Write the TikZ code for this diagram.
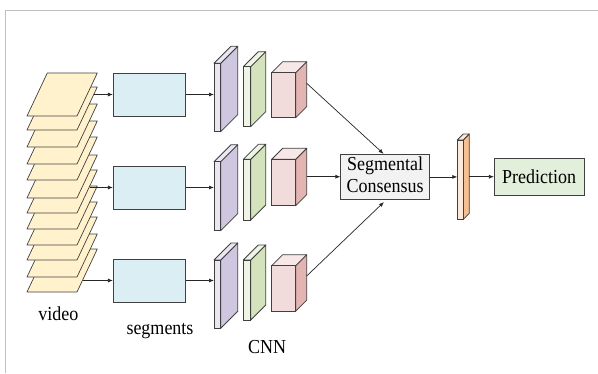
\documentclass[tikz,border=0pt]{standalone}
\usepackage{fontspec}
\setmainfont{Liberation Serif}
\usetikzlibrary{arrows.meta}

\definecolor{edge}{HTML}{404040}
\definecolor{framegray}{HTML}{C0C0C0}
\definecolor{framefill}{HTML}{FFF2CC}
\definecolor{segfill}{HTML}{DAEEF3}
\definecolor{purfront}{HTML}{EAE6F2}
\definecolor{purside}{HTML}{CFC7DF}
\definecolor{grnfront}{HTML}{EEF5E4}
\definecolor{grnside}{HTML}{D5E3BC}
\definecolor{pnkfront}{HTML}{F2DCDB}
\definecolor{pnkside}{HTML}{E4B4B3}
\definecolor{pnktop}{HTML}{F7E7E6}
\definecolor{orgfront}{HTML}{FDE9D9}
\definecolor{orgside}{HTML}{F6BF93}
\definecolor{consfill}{HTML}{F2F2F2}
\definecolor{predfill}{HTML}{E2EFDA}

% 3-D layer block: name, x, y (top of front face), width, height, depth,
% front colour, side colour, top colour
\newcommand\cnnslab[9]{%
  \filldraw[fill=#8,draw=edge,line width=0.8pt,line join=round]
    (#2+#4,#3) -- ++(#6,-#6) -- ++(0,#5) -- ++(-#6,#6) -- cycle;
  \filldraw[fill=#9,draw=edge,line width=0.8pt,line join=round]
    (#2,#3) -- ++(#6,-#6) -- ++(#4,0) -- ++(-#6,#6) -- cycle;
  \filldraw[fill=#7,draw=edge,line width=0.8pt] (#2,#3) rectangle ++(#4,#5);
  \coordinate (#1) at (#2,#3);
}

% one video frame, given the y of its lower edge
\newcommand\vframe[1]{%
  \filldraw[fill=framefill,draw=edge,line width=0.7pt,line join=round]
    (27,#1) -- (77,#1) -- (97.3,#1-43) -- (47.3,#1-43) -- cycle;
}

% slightly tall lettering
\newcommand\tallt[1]{\scalebox{1}[1.1]{#1}}

\tikzset{
  box/.style={draw=edge,line width=0.8pt,inner sep=0pt,
    font=\fontsize{18}{20.6}\selectfont},
  segbox/.style={box,fill=segfill,minimum width=72.4pt,minimum height=43pt},
  link/.style={draw=black!85,line width=0.7pt,-{Latex[length=5pt,width=4pt]}},
  label/.style={font=\fontsize{18}{20}\selectfont,inner sep=0pt,anchor=base}
}

\begin{document}
\begin{tikzpicture}[x=1pt,y=-1pt]
  \fill[white] (0,0) rectangle (598,373);
  \useasboundingbox (0,0) rectangle (598,373);
  \draw[framegray,line width=1.8pt] (5.5,373) -- (5.5,10.5) -- (598,10.5);

  % stack of video frames, back to front
  \foreach \b in {292,277,260,245,229,213,198,180,164,147,130,116}{\vframe{\b}}
  \coordinate (v1) at (93.8,94.5);
  \coordinate (v2) at (89.5,187.5);
  \coordinate (v3) at (82.6,280.5);

  % segment boxes
  \node[segbox] (seg1) at (149.5,94.5) {};
  \node[segbox] (seg2) at (149.5,187.5) {};
  \node[segbox] (seg3) at (149.5,280.5) {};

  % CNN layers per segment
  \cnnslab{pur1}{214}{63.3}{6.7}{68.4}{17}{purfront}{purside}{purfront}
  \cnnslab{grn1}{243.3}{66.7}{7.4}{60}{15}{grnfront}{grnside}{grnfront}
  \cnnslab{pnk1}{271.7}{72.7}{24}{45}{11}{pnkfront}{pnkside}{pnktop}

  \cnnslab{pur2}{214}{161.7}{6.7}{69}{17}{purfront}{purside}{purfront}
  \cnnslab{grn2}{243.3}{159.3}{7.4}{60.7}{15}{grnfront}{grnside}{grnfront}
  \cnnslab{pnk2}{271.7}{159.3}{24}{46.4}{11}{pnkfront}{pnkside}{pnktop}

  \cnnslab{pur3}{214}{260}{6.7}{68.3}{17}{purfront}{purside}{purfront}
  \cnnslab{grn3}{243.3}{260}{7.4}{60}{15}{grnfront}{grnside}{grnfront}
  \cnnslab{pnk3}{271.7}{265.7}{24}{45.5}{11}{pnkfront}{pnkside}{pnktop}

  \coordinate (k1) at (306.7,83.3);
  \coordinate (k2) at (306.7,176.7);
  \coordinate (k3) at (306.7,276);

  % consensus and prediction
  \node[box,fill=consfill,minimum width=88.6pt,minimum height=37.4pt]
    (cons) at (385.1,176.9)
    {\tallt{\begin{tabular}{@{}c@{}}Segmental\\Consensus\end{tabular}}};
  \cnnslab{org}{457.3}{140}{6}{79.3}{6}{orgfront}{orgside}{orgfront}
  \coordinate (o1) at (469.3,176.7);
  \node[box,fill=predfill,minimum width=89.7pt,minimum height=36.7pt]
    (pred) at (539.2,176.7) {\tallt{Prediction}};

  % connectors
  \draw[link] (v1) -- (v1 -| seg1.west);
  \draw[link] (v2) -- (v2 -| seg2.west);
  \draw[link] (v3) -- (v3 -| seg3.west);
  \draw[link] (seg1.east) -- (seg1.east -| pur1);
  \draw[link] (seg2.east) -- (seg2.east -| pur2);
  \draw[link] (seg3.east) -- (seg3.east -| pur3);
  \draw[link] (k1) -- ([xshift=-1.5pt]cons.north);
  \draw[link] (k2) -- (k2 -| cons.west);
  \draw[link,shorten >=3pt] (k3) -- ([xshift=1pt]cons.south);
  \draw[link] (cons.east) -- (cons.east -| org);
  \draw[link] (o1) -- (o1 -| pred.west);

  % captions
  \node[label] (lvideo) at (58.3,320) {\tallt{video}};
  \node[label] (lseg) at (160,334.3) {\tallt{segments}};
  \node[label] (lcnn) at (267.2,353.3) {\tallt{CNN}};
\end{tikzpicture}
\end{document}
